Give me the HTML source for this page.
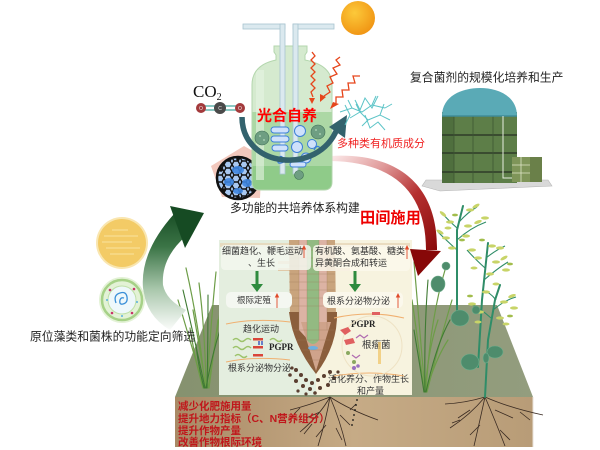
<!DOCTYPE html>
<html><head><meta charset="utf-8"><style>
html,body{margin:0;padding:0;background:#fff;}
svg{display:block;}
.cn{font-family:"Liberation Sans","Noto Sans CJK SC",sans-serif;}
</style></head><body>
<svg width="600" height="450" viewBox="0 0 600 450" xmlns="http://www.w3.org/2000/svg">
<defs>
<linearGradient id="soil" x1="0" y1="0" x2="1" y2="0">
<stop offset="0" stop-color="#a98a66"/><stop offset="0.5" stop-color="#c6ab86"/><stop offset="1" stop-color="#b89c77"/></linearGradient>
<linearGradient id="ground" x1="0" y1="0" x2="1" y2="0">
<stop offset="0" stop-color="#86926f"/><stop offset="1" stop-color="#939d7e"/></linearGradient>
<linearGradient id="garrow" gradientUnits="userSpaceOnUse" x1="0" y1="210" x2="0" y2="332">
<stop offset="0" stop-color="#164b23"/><stop offset="0.3" stop-color="#3b7446"/><stop offset="0.65" stop-color="#a9c7ac"/><stop offset="1" stop-color="#ffffff"/></linearGradient>
<linearGradient id="rarrow" gradientUnits="userSpaceOnUse" x1="330" y1="158" x2="430" y2="260">
<stop offset="0" stop-color="#fbe8e8"/><stop offset="0.3" stop-color="#e09a9a"/><stop offset="0.6" stop-color="#b53030"/><stop offset="1" stop-color="#870808"/></linearGradient>
<radialGradient id="sun" cx="0.4" cy="0.35" r="0.7">
<stop offset="0" stop-color="#fcc93a"/><stop offset="1" stop-color="#f09312"/></radialGradient>
<pattern id="hex" patternUnits="userSpaceOnUse" width="8" height="7">
<path d="M0,3.5 L2,0 L6,0 L8,3.5 L6,7 L2,7 Z" fill="none" stroke="#111" stroke-width="1.4"/></pattern>
<clipPath id="bottleClip"><path d="M274,46 L307,46 L307,52 L305,55 L305,60 Q332,65 332,85 L332,182 Q332,190 324,190 L260,190 Q252,190 252,182 L252,85 Q252,65 276,60 L276,55 L274,52 Z"/></clipPath>
</defs>

<!-- field platform -->
<polygon points="212,305 497,305 533,397 175,397" fill="url(#ground)"/>
<rect x="175" y="397" width="358" height="50" fill="url(#soil)"/>
<line x1="533" y1="397" x2="533" y2="447" stroke="#e8e2d8" stroke-width="1"/>

<!-- left grass -->
<g fill="none" stroke-linecap="round">
<g stroke="#6d9d47" stroke-width="1.2">
<path d="M205,388 Q200,330 186,268"/><path d="M206,388 Q205,330 199,283"/><path d="M207,388 Q211,320 216,272"/>
<path d="M204,388 Q190,340 178,300"/><path d="M208,388 Q216,340 222,298"/><path d="M203,388 Q195,360 190,328"/>
<path d="M206,388 Q200,350 193,310"/><path d="M209,388 Q214,350 218,320"/></g>
<g stroke="#3f7a33" stroke-width="1.1">
<path d="M205,388 Q196,345 183,290"/><path d="M207,388 Q208,345 208,295"/><path d="M206,388 Q212,355 220,330"/><path d="M204,388 Q198,365 196,345"/></g>
</g>
<!-- right grass -->
<g fill="none" stroke-linecap="round">
<g stroke="#6d9d47" stroke-width="1.2">
<path d="M425,392 Q420,330 414,262"/><path d="M426,392 Q430,320 445,270"/><path d="M424,392 Q418,340 412,300"/>
<path d="M427,392 Q440,340 452,300"/><path d="M425,392 Q428,350 438,320"/><path d="M426,392 Q435,360 448,340"/></g>
<g stroke="#3f7a33" stroke-width="1.1">
<path d="M425,392 Q424,330 428,280"/><path d="M426,392 Q436,345 450,320"/><path d="M424,392 Q419,360 414,330"/></g>
</g>

<!-- central panel -->
<rect x="219" y="240" width="97" height="155" fill="#e4eedf"/>
<rect x="316" y="240" width="96" height="155" fill="#f7f3df"/>
<rect x="220" y="243" width="190" height="4" fill="#e6d6b8" opacity="0.8"/>
<!-- root -->
<rect x="278" y="261" width="14" height="3" fill="#e0c9a8"/><rect x="278" y="268" width="14" height="3" fill="#e0c9a8"/>
<rect x="334" y="261" width="16" height="3" fill="#e0c9a8"/><rect x="334" y="268" width="16" height="3" fill="#e0c9a8"/>
<path d="M289,240 L335,240 L336,318 Q337,345 316,373 Q294,345 290,318 Z" fill="#c9a47d"/>
<path d="M289,312 L337,312 Q338,345 316,374 Q293,345 289,312 Z" fill="#8b5e3c"/>
<path d="M299,240 L327,240 L327,330 L313,345 L299,330 Z" fill="#dcb3a4"/>
<path d="M301,322 L331,322 L316,371 Z" fill="#cfa38b"/>
<path d="M307,240 L319,240 L319,340 Q313,348 307,340 Z" fill="#93ba82"/>
<ellipse cx="313" cy="348" rx="5" ry="2" fill="#6fb0e0"/>
<g stroke="#9c7656" stroke-width="0.5" opacity="0.6">
<path d="M289,250 H335 M289,258 H335 M289,266 H335 M289,274 H335 M289,282 H335 M289,290 H335 M289,298 H335 M289,306 H335 M292,330 H334 M297,340 H330 M302,350 H326 M307,360 H322"/>
<path d="M299,240 V330 M327,240 V330 M307,240 V340 M319,240 V340"/>
</g>
<!-- soil particles -->
<g fill="#5a3e30">
<circle cx="296" cy="370" r="2"/><circle cx="301" cy="375" r="2"/><circle cx="306" cy="380" r="2"/><circle cx="312" cy="383" r="2"/>
<circle cx="318" cy="380" r="2"/><circle cx="324" cy="376" r="2"/><circle cx="330" cy="372" r="2"/><circle cx="334" cy="378" r="2"/>
<circle cx="310" cy="389" r="2"/><circle cx="303" cy="386" r="2"/><circle cx="296" cy="381" r="2"/><circle cx="290" cy="375" r="1.8"/>
<circle cx="320" cy="388" r="2"/><circle cx="328" cy="385" r="2"/><circle cx="315" cy="393" r="1.8"/><circle cx="298" cy="391" r="1.6"/>
<circle cx="292" cy="368" r="1.6"/><circle cx="338" cy="372" r="1.6"/><circle cx="306" cy="394" r="1.6"/>
</g>

<!-- panel text boxes -->
<rect x="221" y="245" width="90" height="25" rx="4" fill="#f3f7ef" opacity="0.85"/>
<rect x="313" y="245" width="97" height="26" rx="4" fill="#fbf8ec" opacity="0.85"/>
<rect x="226" y="292" width="66" height="16" rx="5" fill="#f4f7f1"/>
<rect x="323" y="292" width="80" height="16" rx="5" fill="#fbf8ec"/>
<g class="cn" font-size="9" fill="#333">
<text x="222" y="254">细菌趋化、鞭毛运动</text>
<text x="248" y="266">、生长</text>
<text x="315" y="254">有机酸、氨基酸、糖类</text>
<text x="315" y="266">异黄酮合成和转运</text>
<text x="237" y="303" font-size="8.5">根际定殖</text>
<text x="327" y="304">根系分泌物分泌</text>
<text x="243" y="332">趋化运动</text>
<text x="228" y="371">根系分泌物分泌</text>
<text x="362" y="348" font-size="9.5">根瘤菌</text>
<text x="328" y="382">活化养分、作物生长</text>
<text x="357" y="394">和产量</text>
</g>
<g font-family="Liberation Serif,serif" font-weight="bold" font-size="9" fill="#222">
<text x="269" y="350">PGPR</text><text x="351" y="327">PGPR</text></g>
<!-- red small up arrows -->
<g stroke="#e04a2a" stroke-width="0.9" fill="#e04a2a">
<line x1="304" y1="248" x2="304" y2="258"/><polygon points="302.5,249 305.5,249 304,246"/>
<line x1="407" y1="248" x2="407" y2="259"/><polygon points="405.5,249 408.5,249 407,246"/>
<line x1="277" y1="296" x2="277" y2="308"/><polygon points="275.5,297 278.5,297 277,294"/>
<line x1="398" y1="296" x2="398" y2="308"/><polygon points="396.5,297 399.5,297 398,294"/>
</g>
<!-- green down arrows -->
<g fill="#2e8b3e">
<rect x="255.5" y="271" width="3" height="14"/><polygon points="251,284 263,284 257,292"/>
<rect x="353.5" y="271" width="3" height="14"/><polygon points="349,284 361,284 355,292"/>
</g>
<!-- orange lines -->
<g fill="none" stroke="#f0b070" stroke-width="1">
<path d="M226,324 Q255,318 290,322"/><path d="M226,362 Q255,356 290,360"/>
<path d="M334,318 Q370,310 404,318"/><path d="M334,376 Q370,370 404,376"/>
</g>
<circle cx="372" cy="346" r="30" fill="none" stroke="#eee2c4" stroke-width="1"/>
<!-- bacteria icons left -->
<g fill="none" stroke="#9cc36a" stroke-width="1.5">
<path d="M233,340 q3,-3 6,0 t6,0 t6,0"/><path d="M233,348 q3,-3 6,0 t6,0 t6,0"/><path d="M235,356 q3,-3 6,0 t6,0"/>
<path d="M270,340 q3,-3 6,0 t6,0"/></g>
<g fill="#d9453a"><rect x="253" y="338" width="10" height="2.5"/><rect x="253" y="346" width="10" height="2.5"/><rect x="253" y="354" width="10" height="2.5"/></g>
<g fill="#6a7fc8"><rect x="258" y="341" width="2" height="4"/><rect x="261" y="341" width="2" height="4"/></g>
<!-- right icons -->
<g fill="#e06060"><path d="M340,330 l8,-3 l3,4 l-6,4 z"/><path d="M344,340 l9,-2 l2,5 l-9,2 z"/><path d="M372,312 l8,0 l0,3 l-8,0 z"/></g>
<g fill="none" stroke="#b06ab0" stroke-width="1.2"><path d="M356,338 l4,-3 l4,3 l4,-3"/><path d="M352,355 l4,3 l4,-3"/></g>
<g fill="#8aa860"><circle cx="348" cy="353" r="2"/><circle cx="354" cy="362" r="2"/></g>
<g fill="#9a70c0"><circle cx="354" cy="368" r="2"/><circle cx="358" cy="366" r="1.8"/></g>
<rect x="378" y="342" width="3" height="22" fill="#f0c870" opacity="0.8"/>

<!-- soil roots -->
<g fill="none" stroke="#3a2b22" stroke-width="0.8">
<path d="M330,397 Q320,415 300,432"/><path d="M330,397 Q326,420 318,446"/><path d="M330,397 Q340,420 346,446"/>
<path d="M330,397 Q350,410 378,420"/><path d="M330,397 Q310,405 290,410"/><path d="M320,412 l-14,6 M312,424 l-8,10 M340,415 l10,10 M350,410 l6,-6 M326,425 l-10,12 M336,428 l6,12 M300,408 l-6,6"/>
<path d="M485,397 Q470,415 450,428"/><path d="M485,397 Q480,420 474,446"/><path d="M485,397 Q495,420 505,446"/>
<path d="M485,397 Q510,408 543,415"/><path d="M485,397 Q465,403 445,404"/><path d="M470,410 l-12,8 M495,410 l18,8 M480,425 l-10,10 M500,430 l10,10 M460,420 l-8,3 M520,412 l10,8"/>
</g>
<g fill="#111"><circle cx="357" cy="400" r="0.9"/><circle cx="356" cy="405" r="0.9"/><circle cx="355" cy="410" r="0.9"/><circle cx="354" cy="415" r="0.9"/><circle cx="353" cy="420" r="0.9"/><circle cx="352" cy="425" r="0.9"/></g>

<!-- bottom red text -->
<g class="cn" font-size="10.5" font-weight="bold" fill="#c0161b">
<text x="178" y="409.5">减少化肥施用量</text>
<text x="178" y="422">提升地力指标（C、N营养组分）</text>
<text x="178" y="434">提升作物产量</text>
<text x="178" y="445.5">改善作物根际环境</text>
</g>

<!-- crop plants -->
<g fill="none" stroke="#2f8d68" stroke-width="2" stroke-linecap="round">
<path d="M457,313 L457,230 L463,206"/><path d="M478,367 L482,300 L488,243"/><path d="M485,397 L488,340 L495,300 L500,285"/>
</g>
<g fill="none" stroke="#2f8d68" stroke-width="1.1">
<path d="M457,250 Q446,240 438,232"/><path d="M457,240 Q470,228 486,222"/><path d="M457,228 Q448,220 441,212"/><path d="M459,222 Q468,212 477,207"/>
<path d="M484,280 Q498,268 508,262"/><path d="M485,268 Q474,258 467,250"/><path d="M486,258 Q496,250 505,246"/>
<path d="M493,310 Q505,300 516,297"/><path d="M491,318 Q480,308 470,304"/><path d="M496,300 Q490,292 482,290"/>
</g>
<g fill="#c8d468">
<ellipse cx="440" cy="232" rx="4" ry="1.6" transform="rotate(30 440 232)"/><ellipse cx="446" cy="238" rx="4" ry="1.6"/><ellipse cx="443" cy="214" rx="4" ry="1.6" transform="rotate(40 443 214)"/>
<ellipse cx="450" cy="222" rx="4" ry="1.6"/><ellipse cx="468" cy="226" rx="4" ry="1.6"/><ellipse cx="478" cy="222" rx="4" ry="1.6" transform="rotate(-20 478 222)"/>
<ellipse cx="485" cy="218" rx="4" ry="1.6"/><ellipse cx="470" cy="210" rx="4" ry="1.6"/><ellipse cx="476" cy="206" rx="4" ry="1.6" transform="rotate(-30 476 206)"/>
<ellipse cx="452" cy="248" rx="4" ry="1.6"/><ellipse cx="466" cy="236" rx="4" ry="1.6"/><ellipse cx="448" cy="228" rx="3.5" ry="1.5"/>
<ellipse cx="472" cy="250" rx="4" ry="1.6"/><ellipse cx="478" cy="258" rx="4" ry="1.6"/><ellipse cx="496" cy="262" rx="4" ry="1.6"/>
<ellipse cx="504" cy="258" rx="4" ry="1.6" transform="rotate(-30 504 258)"/><ellipse cx="500" cy="248" rx="4" ry="1.6"/><ellipse cx="492" cy="246" rx="4" ry="1.6"/>
<ellipse cx="506" cy="270" rx="4" ry="1.6"/><ellipse cx="490" cy="274" rx="4" ry="1.6"/><ellipse cx="474" cy="268" rx="3.5" ry="1.5"/><ellipse cx="496" cy="284" rx="3.5" ry="1.5"/>
<ellipse cx="472" cy="304" rx="4" ry="1.6"/><ellipse cx="480" cy="312" rx="4" ry="1.6"/><ellipse cx="504" cy="302" rx="4" ry="1.6"/>
<ellipse cx="512" cy="296" rx="4" ry="1.6" transform="rotate(-20 512 296)"/><ellipse cx="514" cy="308" rx="4" ry="1.6"/><ellipse cx="486" cy="292" rx="4" ry="1.6"/>
<ellipse cx="500" cy="318" rx="4" ry="1.6"/><ellipse cx="506" cy="324" rx="3.5" ry="1.5"/><ellipse cx="478" cy="322" rx="3.5" ry="1.5"/>
</g>
<g fill="#a2bd4c">
<ellipse cx="455" cy="215" rx="3" ry="1.4"/><ellipse cx="462" cy="240" rx="3" ry="1.4"/><ellipse cx="482" cy="240" rx="3" ry="1.4"/>
<ellipse cx="510" cy="264" rx="3" ry="1.4"/><ellipse cx="470" cy="296" rx="3" ry="1.4"/><ellipse cx="510" cy="316" rx="3" ry="1.4"/>
</g>
<g fill="#4e8c6c" stroke="#6fae8c" stroke-width="0.6">
<ellipse cx="438" cy="284" rx="7" ry="8"/><ellipse cx="446" cy="266" rx="4" ry="4"/><ellipse cx="460" cy="318" rx="9" ry="8"/>
<ellipse cx="470" cy="362" rx="9" ry="8"/><ellipse cx="495" cy="352" rx="8" ry="6"/><ellipse cx="486" cy="358" rx="3" ry="5"/><ellipse cx="476" cy="310" rx="4" ry="4"/>
</g>

<!-- green curved arrow -->
<path d="M174,214 Q140,252 143,288 Q146,316 170,330 L186,310 Q166,300 163,285 Q161,258 186,236 Z" fill="url(#garrow)"/>
<polygon points="170,206 204,213 185,248" fill="#164b23"/>

<!-- left circles -->
<circle cx="122" cy="243" r="26" fill="#f9e6b0"/>
<circle cx="122" cy="243" r="24" fill="#f3cb66"/>
<g stroke="#fbe6a6" stroke-width="1" opacity="0.9">
<line x1="104" y1="236" x2="138" y2="236"/><line x1="102" y1="242" x2="132" y2="242"/><line x1="106" y1="248" x2="140" y2="248"/><line x1="110" y1="254" x2="134" y2="254"/><line x1="112" y1="230" x2="128" y2="230"/></g>
<circle cx="122" cy="300" r="23" fill="#e3f2d6"/>
<circle cx="122" cy="300" r="20" fill="none" stroke="#a6d187" stroke-width="2.5"/>
<circle cx="122" cy="300" r="14" fill="#eef8fb" stroke="#bfe0a8" stroke-width="1"/>
<path d="M116,303 q-3,-8 4,-10 q6,-2 7,4 q1,6 -4,7 q-4,1 -3,-4 q1,-3 4,-2" fill="none" stroke="#3a8fd8" stroke-width="1.3"/>
<g fill="#c8336a"><circle cx="110" cy="290" r="1.3"/><circle cx="134" cy="289" r="1.3"/><circle cx="112" cy="313" r="1.3"/><circle cx="132" cy="313" r="1.3"/></g>
<g fill="#5ab0e0"><circle cx="107" cy="300" r="1"/><circle cx="137" cy="302" r="1"/><circle cx="122" cy="316" r="1"/></g>
<text class="cn" x="30" y="340.5" font-size="11.8" fill="#222">原位藻类和菌株的功能定向筛选</text>

<!-- red curved arrow -->
<path d="M330,156 C399,152 438,186 437,250 L426,250 C426,193 395,162 330,161 Z" fill="url(#rarrow)"/>
<polygon points="410,249 441,251 418,276" fill="#870808"/>
<text class="cn" x="360" y="223" font-size="15.2" font-weight="bold" fill="#ee0000">田间施用</text>

<!-- fullerene pink backing -->
<polygon points="211,166 244,146 262,156 260,198 222,197" fill="#f2c8bd"/>
<circle cx="238" cy="178" r="21" fill="#a9c8f0"/>
<circle cx="238" cy="178" r="21" fill="url(#hex)"/>
<g fill="#3f86e0" opacity="0.9"><ellipse cx="238" cy="170" rx="6" ry="4"/><ellipse cx="229" cy="182" rx="5" ry="4"/><ellipse cx="247" cy="183" rx="5" ry="4"/><ellipse cx="238" cy="191" rx="5" ry="3"/></g>
<circle cx="238" cy="178" r="21" fill="none" stroke="#111" stroke-width="2.5"/>
<g fill="#111"><circle cx="238" cy="159" r="1.8"/><circle cx="221" cy="170" r="1.8"/><circle cx="255" cy="170" r="1.8"/><circle cx="224" cy="190" r="1.8"/><circle cx="252" cy="190" r="1.8"/><circle cx="238" cy="197" r="1.8"/></g>

<!-- bottle -->
<path d="M274,46 L307,46 L307,52 L305,55 L305,60 Q332,65 332,85 L332,182 Q332,190 324,190 L260,190 Q252,190 252,182 L252,85 Q252,65 276,60 L276,55 L274,52 Z" fill="#d5eacf"/>
<g clip-path="url(#bottleClip)">
<rect x="250" y="112" width="90" height="80" fill="#acd8a5"/>
<rect x="250" y="166" width="90" height="26" fill="#8fcb89"/>
<rect x="256" y="70" width="8" height="110" fill="#e6f3e3" opacity="0.6"/>
</g>
<path d="M274,46 L307,46 L307,52 L305,55 L305,60 Q332,65 332,85 L332,182 Q332,190 324,190 L260,190 Q252,190 252,182 L252,85 Q252,65 276,60 L276,55 L274,52 Z" fill="none" stroke="#b3d6ad" stroke-width="1"/>
<!-- tubes -->
<g fill="#dbe9ef" stroke="#a8c4d0" stroke-width="0.8">
<rect x="243" y="24" width="42" height="5"/><rect x="280" y="24" width="5" height="150"/>
<rect x="293" y="24" width="41" height="5"/><rect x="293" y="24" width="5" height="150"/>
</g>
<!-- cells -->
<g fill="#cfe1fb" stroke="#3b7fd8" stroke-width="1">
<rect x="271" y="127" width="18" height="6" rx="3"/><rect x="271" y="136" width="18" height="6" rx="3"/><rect x="272" y="145" width="16" height="6" rx="3"/>
<circle cx="300" cy="131" r="5.5"/><circle cx="297" cy="147" r="5.5"/><circle cx="306" cy="158" r="5"/><circle cx="312" cy="144" r="4.5"/>
<rect x="290" y="162" width="16" height="5" rx="2.5"/>
</g>
<g fill="none" stroke="#3b7fd8" stroke-width="1.2"><path d="M278,160 q2,-6 5,-2 q3,4 -2,5 q-5,1 -2,-5"/><path d="M314,150 q3,-6 6,-2 q2,4 -3,4"/></g>
<g fill="#6e9e82" stroke="#3f6f56" stroke-width="0.6"><circle cx="262" cy="138" r="7"/><circle cx="318" cy="132" r="7"/><circle cx="299" cy="175" r="4.5"/></g>
<g fill="#a5cdb0"><circle cx="260" cy="136" r="1"/><circle cx="264" cy="140" r="1"/><circle cx="316" cy="130" r="1"/><circle cx="320" cy="134" r="1"/></g>
<text class="cn" x="257" y="120.5" font-size="15" font-weight="bold" fill="#ff0000">光合自养</text>

<!-- CO2 -->
<text x="193" y="97" font-family="Liberation Serif,serif" font-size="17" fill="#111">CO<tspan font-size="10" dy="3">2</tspan></text>
<g stroke="#8cc9c4" stroke-width="2"><line x1="202" y1="106" x2="240" y2="106"/><line x1="202" y1="110" x2="240" y2="110"/></g>
<circle cx="201" cy="108" r="5" fill="#a33a3c"/><circle cx="220" cy="108" r="6" fill="#4a4a4a"/><circle cx="240" cy="108" r="5" fill="#a33a3c"/>
<g font-family="Liberation Sans,sans-serif" font-size="5" fill="#eee" text-anchor="middle"><text x="201" y="110">O</text><text x="220" y="110">C</text><text x="240" y="110">O</text></g>
<!-- teal arc arrow -->
<path d="M242,117 C242,168 318,176 337,129" fill="none" stroke="#33626d" stroke-width="5.5"/>
<polygon points="347,115 329,127 345,138" fill="#33626d"/>

<!-- light waves -->
<g fill="none" stroke="#e6461c" stroke-width="1.3">
<path d="M312,52 l3,4 l-4,4 l4,4 l-4,4 l4,4 l-4,4 l4,4 l-4,4 l4,4 l-4,4 l2,5"/>
<path d="M340,57 L336,60 L340,65 L333,68 L337,74 L330,77 L333,83 L327,86 L330,92 L324,96"/>
<path d="M360,76 L353,76 L355,83 L348,83 L349,90 L342,90 L343,97 L336,97 L336,103"/>
</g>
<g fill="#e6461c"><polygon points="309,98 315,98 312,104"/><polygon points="320,94 326,97 320,102"/><polygon points="333,102 339,104 330,109"/></g>
<!-- filaments -->
<g fill="none" stroke="#5cc4c7" stroke-width="1">
<path d="M340,112 L352,108 L362,112 L372,105 L385,108"/><path d="M350,118 L360,112 L368,120 L380,115 L390,120"/>
<path d="M355,100 L360,110 L365,98 L372,108 L378,96"/><path d="M345,105 L350,115 L345,125"/><path d="M365,115 L370,128 L378,122 L385,130"/>
<path d="M372,105 L376,96 M380,115 L384,104 M360,112 L356,104 M352,108 L348,100 M368,120 L362,126 M385,108 L392,104"/>
</g>
<text class="cn" x="337" y="147" font-size="11" fill="#f02020">多种类有机质成分</text>
<text class="cn" x="230" y="212" font-size="11.8" fill="#222">多功能的共培养体系构建</text>

<!-- sun -->
<circle cx="358" cy="18" r="17" fill="url(#sun)"/>

<!-- tank -->
<text class="cn" x="410" y="81.5" font-size="11.8" fill="#222">复合菌剂的规模化培养和生产</text>
<polygon points="426,180 548,180 552,186 440,191 422,186" fill="#d9d9d9" stroke="#b5b5b5" stroke-width="0.6"/>
<rect x="442" y="112" width="75" height="71" fill="#5d7e48"/>
<rect x="442" y="112" width="12" height="71" fill="#4f6f3e"/>
<g stroke="#2e3b28" stroke-width="1.4"><line x1="442" y1="135" x2="517" y2="135"/><line x1="442" y1="153" x2="517" y2="153"/><line x1="442" y1="172" x2="517" y2="172"/></g>
<g stroke="#3d5533" stroke-width="0.8"><line x1="454" y1="114" x2="454" y2="183"/><line x1="473" y1="114" x2="473" y2="183"/><line x1="493" y1="114" x2="493" y2="183"/></g>
<path d="M442,116 C442,96 462,88 480,88 C498,88 517,96 517,116 Z" fill="#5aaab6"/>
<path d="M442,116 H517" stroke="#3f8c98" stroke-width="1.5"/>
<path d="M503,116 V178 H512" fill="none" stroke="#e8eee0" stroke-width="1"/>
<rect x="512" y="157" width="30" height="25" fill="#7f9559"/>
<g stroke="#dfe6c8" stroke-width="0.8"><line x1="512" y1="165" x2="530" y2="165"/><line x1="512" y1="173" x2="530" y2="173"/><line x1="521" y1="157" x2="521" y2="182"/></g>
<rect x="530" y="157" width="12" height="25" fill="#6a8049"/>
</svg>
</body></html>
